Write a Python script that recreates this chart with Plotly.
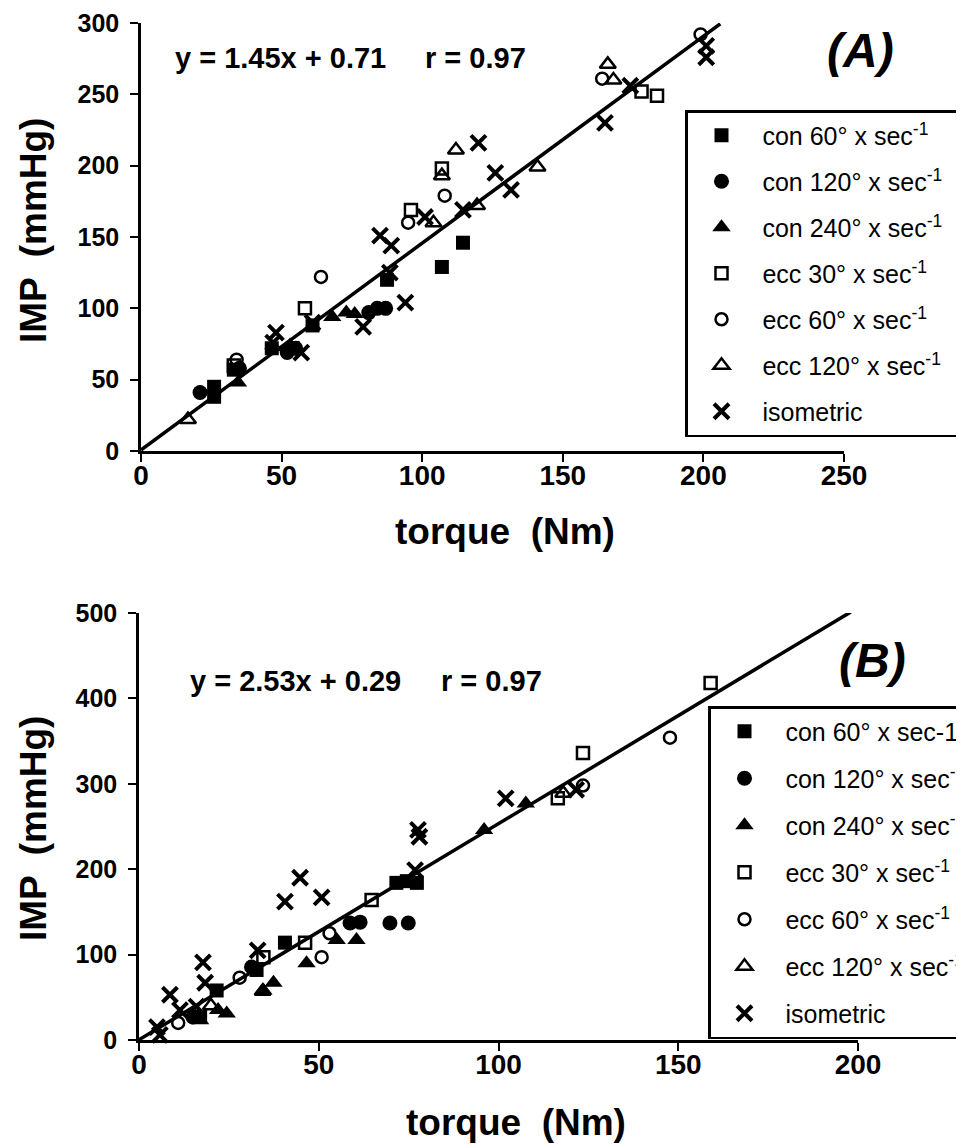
import plotly.graph_objects as go

W, H = 964, 1148
FONT = "Liberation Sans, Arial, Helvetica, sans-serif"
PAGE_OFFSET = 8  # default body margin of the html page

# ---------------- data ----------------
series = ["con60", "con120", "con240", "ecc30", "ecc60", "ecc120", "iso"]
NB = "\u00a0"
legend_a = [NB + "con 60° x sec<sup>-1</sup>" + NB * 6, NB + "con 120° x sec<sup>-1</sup>" + NB * 6,
            NB + "con 240° x sec<sup>-1</sup>", NB + "ecc 30° x sec<sup>-1</sup>",
            NB + "ecc 60° x sec<sup>-1</sup>", NB + "ecc 120° x sec<sup>-1</sup>", NB + "isometric"]
legend_b = [NB + "con 60° x sec-1", NB + "con 120° x sec<sup>-1</sup>", NB + "con 240° x sec<sup>-1</sup>",
            NB + "ecc 30° x sec<sup>-1</sup>", NB + "ecc 60° x sec<sup>-1</sup>",
            NB + "ecc 120° x sec<sup>-1</sup>", NB + "isometric"]

# Panel A  (torque Nm, IMP mmHg)
a_con60_x = [26, 26, 33, 46.5, 54, 61, 87.5, 107, 114.5]
a_con60_y = [45, 38, 57, 72, 72, 88, 120, 129, 146]
a_con120_x = [21, 35, 52, 55, 81, 84, 87]
a_con120_y = [41, 58, 69, 72, 97, 100, 100]
a_con240_x = [34.5, 53, 68, 73, 76]
a_con240_y = [48, 74, 94, 97, 96]
a_ecc30_x = [33, 58.3, 96, 107, 178, 183.5]
a_ecc30_y = [60, 100, 169, 198, 252, 249]
a_ecc60_x = [34, 64, 95, 108, 164, 199]
a_ecc60_y = [64, 122, 160, 179, 261, 292]
a_ecc120_x = [16.7, 104, 107, 112, 119.5, 141, 166, 168]
a_ecc120_y = [22, 160, 193, 211, 172, 199, 271, 260]
a_iso_x = [48, 47, 57, 61, 79, 85, 89, 88.5, 94, 101, 114.5, 120, 126, 131.6, 165, 174, 201, 201]
a_iso_y = [83, 76, 69, 90, 87, 151, 144, 125, 104, 164, 169, 216, 195, 183, 230, 256, 284, 276]

# Panel B
b_con60_x = [17, 21.6, 32.7, 40.6, 71.6, 74.5, 77.3]
b_con60_y = [27, 58, 82, 114, 184, 186, 184]
b_con120_x = [15, 31.3, 58.7, 61.5, 69.8, 74.9]
b_con120_y = [27, 85.5, 137, 138, 137, 137]
b_con240_x = [17, 24.4, 22, 34.6, 37.4, 46.6, 55, 60.5, 96, 107.6]
b_con240_y = [23, 31, 35, 58, 67, 90, 117, 117, 246, 277]
b_ecc30_x = [34.6, 46.2, 64.7, 116.5, 123.5, 159]
b_ecc30_y = [97, 114, 164, 283, 336, 418]
b_ecc60_x = [10.9, 28, 50.8, 53, 123.5, 147.7]
b_ecc60_y = [20, 73, 97, 125, 298, 354]
b_ecc120_x = [20, 34.4, 118]
b_ecc120_y = [40, 57, 289]
b_iso_x = [5, 5.8, 8.6, 11.4, 16, 17.8, 18.4, 33, 40.6, 44.8, 50.8, 76.8, 77.6, 78, 102, 121.6]
b_iso_y = [15, 6, 53, 35, 39, 91, 67, 105, 162, 190, 167, 199, 246, 238, 283, 293]

# regression fits
fit_slope = [1.45, 2.53]
fit_intercept = [0.71, 0.29]
fit_xmax = [206, 198]
fit_text = ["y = 1.45x + 0.71", "y = 2.53x + 0.29"]
r_text = ["r = 0.97", "r = 0.97"]
panel_tags = ["<i>(A)</i>", "<i>(B)</i>"]

# ---------------- styles ----------------
marker_style = {
    "con60": dict(symbol="square", size=14, color="black", line=dict(width=0)),
    "con120": dict(symbol="circle", size=15, color="black", line=dict(width=0)),
    "con240": dict(symbol="triangle-up", size=16, color="black", line=dict(width=0)),
    "ecc30": dict(symbol="square-open", size=12, color="black", line=dict(width=2.5)),
    "ecc60": dict(symbol="circle-open", size=12, color="black", line=dict(width=2.5)),
    "ecc120": dict(symbol="triangle-up-open", size=14, color="black", line=dict(width=2.5)),
    "iso": dict(symbol="x-thin-open", size=15, color="black", line=dict(width=4)),
}

data_a = {
    "con60": (a_con60_x, a_con60_y), "con120": (a_con120_x, a_con120_y), "con240": (a_con240_x, a_con240_y),
    "ecc30": (a_ecc30_x, a_ecc30_y), "ecc60": (a_ecc60_x, a_ecc60_y), "ecc120": (a_ecc120_x, a_ecc120_y),
    "iso": (a_iso_x, a_iso_y),
}
data_b = {
    "con60": (b_con60_x, b_con60_y), "con120": (b_con120_x, b_con120_y), "con240": (b_con240_x, b_con240_y),
    "ecc30": (b_ecc30_x, b_ecc30_y), "ecc60": (b_ecc60_x, b_ecc60_y), "ecc120": (b_ecc120_x, b_ecc120_y),
    "iso": (b_iso_x, b_iso_y),
}

fig = go.Figure()

panels = [
    dict(data=data_a, labels=legend_a, xa="x", ya="y", legend="legend", tag="A"),
    dict(data=data_b, labels=legend_b, xa="x2", ya="y2", legend="legend2", tag="B"),
]

for pi, p in enumerate(panels):
    x0, x1 = 0, fit_xmax[pi]
    fig.add_trace(go.Scatter(
        x=[x0, x1], y=[fit_slope[pi] * x0 + fit_intercept[pi], fit_slope[pi] * x1 + fit_intercept[pi]],
        mode="lines", line=dict(color="black", width=3.5), showlegend=False,
        xaxis=p["xa"], yaxis=p["ya"], cliponaxis=False, hoverinfo="skip"))
    for si, s in enumerate(series):
        xs, ys = p["data"][s]
        fig.add_trace(go.Scatter(
            x=xs, y=ys, mode="markers", name=p["labels"][si],
            marker=marker_style[s], xaxis=p["xa"], yaxis=p["ya"],
            legend=p["legend"], legendgroup=p["tag"] + s, cliponaxis=False))


def px_x(v):
    return (v - PAGE_OFFSET) / W


def px_y(v):
    return 1 - (v - PAGE_OFFSET) / H


axis_common = dict(showline=True, linecolor="black", linewidth=2.5, ticks="outside", ticklen=8,
                   tickwidth=2, tickcolor="black", showgrid=False, zeroline=False, mirror=False,
                   fixedrange=True)

legend_common = dict(xanchor="left", yanchor="top", bgcolor="white", bordercolor="black",
                     borderwidth=2.5, font=dict(family=FONT, size=25),
                     itemwidth=58, traceorder="grouped")

fig.update_layout(
    width=W, height=H,
    margin=dict(l=0, r=0, t=0, b=0, autoexpand=False),
    paper_bgcolor="white", plot_bgcolor="white",
    font=dict(family=FONT, color="black"),
    xaxis=dict(domain=[px_x(141), px_x(844)], range=[0, 250], tickvals=[0, 50, 100, 150, 200, 250],
               anchor="y", tickfont=dict(size=28, weight="bold"), ticklabelstandoff=-10, **axis_common),
    yaxis=dict(domain=[px_y(451), px_y(23)], range=[0, 300], tickvals=[0, 50, 100, 150, 200, 250, 300],
               anchor="x", tickfont=dict(size=25, weight="bold"), ticklabelstandoff=6, **axis_common),
    xaxis2=dict(domain=[px_x(139), px_x(858)], range=[0, 200], tickvals=[0, 50, 100, 150, 200],
                anchor="y2", tickfont=dict(size=28, weight="bold"), ticklabelstandoff=-10, **axis_common),
    yaxis2=dict(domain=[px_y(1040), px_y(613)], range=[0, 500], tickvals=[0, 100, 200, 300, 400, 500],
                anchor="x2", tickfont=dict(size=25, weight="bold"), ticklabelstandoff=6, **axis_common),
    legend=dict(x=px_x(685), y=px_y(110), tracegroupgap=10.5, **legend_common),
    legend2=dict(x=px_x(708), y=px_y(706), tracegroupgap=11.5, **legend_common),
    showlegend=True,
)

ann = []
# axis titles
for cx, cy in [(505, 531), (516, 1122)]:
    ann.append(dict(text="<b>torque  (Nm)</b>", x=px_x(cx), y=px_y(cy), xref="paper", yref="paper",
                    showarrow=False, font=dict(size=37), xanchor="center", yanchor="middle"))
for cx, cy in [(33, 231), (33, 829)]:
    ann.append(dict(text="<b>IMP  (mmHg)</b>", x=px_x(cx), y=px_y(cy), xref="paper", yref="paper",
                    showarrow=False, font=dict(size=37), textangle=-90, xanchor="center", yanchor="middle"))
# equations
for i, (lx, rx, cy) in enumerate([(173, 528, 58), (188, 544, 681)]):
    ann.append(dict(text="<b>" + fit_text[i] + "</b>", x=px_x(lx), y=px_y(cy), xref="paper", yref="paper",
                    showarrow=False, font=dict(size=29), xanchor="left", yanchor="middle"))
    ann.append(dict(text="<b>" + r_text[i] + "</b>", x=px_x(rx), y=px_y(cy), xref="paper", yref="paper",
                    showarrow=False, font=dict(size=29), xanchor="right", yanchor="middle"))
# panel tags
for i, (cx, cy) in enumerate([(860, 50), (872, 660)]):
    ann.append(dict(text="<b>" + panel_tags[i] + "</b>", x=px_x(cx), y=px_y(cy), xref="paper", yref="paper",
                    showarrow=False, font=dict(size=48), xanchor="center", yanchor="middle"))
fig.update_layout(annotations=ann)

fig.write_html("out.html")
